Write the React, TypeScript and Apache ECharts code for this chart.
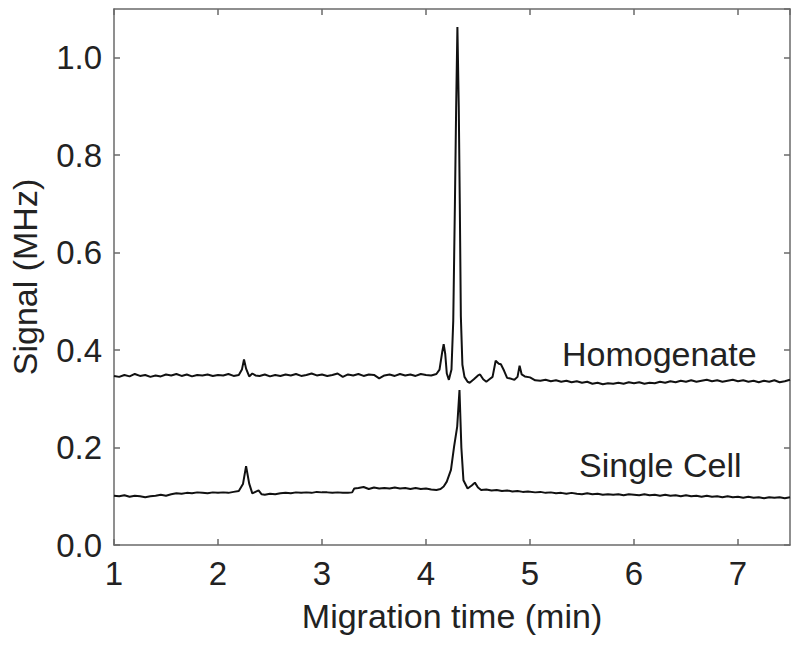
import React, { useEffect, useRef } from "react";
import * as echarts from "echarts";

// Migration time (min), Signal (MHz)
const homogenate: [number, number][] = [
  [1.00,0.347],[1.05,0.345],[1.10,0.349],[1.15,0.346],[1.20,0.351],[1.25,0.347],[1.30,0.349],[1.35,0.345],[1.40,0.348],[1.45,0.346],
  [1.50,0.350],[1.55,0.348],[1.60,0.351],[1.65,0.347],[1.70,0.350],[1.75,0.346],[1.80,0.349],[1.85,0.348],[1.90,0.350],[1.95,0.347],
  [2.00,0.349],[2.05,0.348],[2.10,0.351],[2.15,0.347],[2.20,0.349],[2.23,0.360],[2.25,0.381],[2.27,0.362],[2.30,0.346],[2.33,0.352],
  [2.36,0.348],[2.40,0.347],[2.45,0.350],[2.50,0.346],[2.55,0.349],[2.60,0.347],[2.65,0.350],[2.70,0.348],[2.75,0.351],[2.80,0.347],
  [2.85,0.349],[2.90,0.352],[2.95,0.348],[3.00,0.350],[3.05,0.347],[3.10,0.349],[3.15,0.352],[3.20,0.345],[3.25,0.350],[3.30,0.348],
  [3.35,0.351],[3.40,0.347],[3.45,0.350],[3.50,0.349],[3.55,0.342],[3.60,0.348],[3.65,0.350],[3.70,0.347],[3.75,0.351],[3.80,0.348],
  [3.85,0.350],[3.90,0.347],[3.95,0.351],[4.00,0.349],[4.05,0.348],[4.10,0.351],[4.13,0.360],[4.155,0.395],[4.17,0.412],[4.185,0.392],
  [4.20,0.352],[4.22,0.339],[4.245,0.360],[4.262,0.460],[4.278,0.700],[4.29,0.900],[4.302,1.063],[4.315,0.900],[4.325,0.700],[4.335,0.470],
  [4.35,0.370],[4.37,0.345],[4.40,0.335],[4.42,0.333],[4.46,0.340],[4.50,0.348],[4.52,0.350],[4.55,0.340],[4.58,0.335],[4.61,0.340],
  [4.64,0.345],[4.67,0.378],[4.70,0.372],[4.72,0.371],[4.75,0.358],[4.78,0.343],[4.82,0.341],[4.85,0.339],[4.88,0.345],[4.90,0.368],
  [4.92,0.350],[4.95,0.346],[5.00,0.344],[5.05,0.338],[5.10,0.337],[5.15,0.339],[5.20,0.336],[5.25,0.338],[5.30,0.335],[5.35,0.337],
  [5.40,0.334],[5.45,0.336],[5.50,0.333],[5.55,0.335],[5.60,0.331],[5.65,0.333],[5.70,0.330],[5.75,0.332],[5.80,0.331],[5.85,0.333],
  [5.90,0.331],[5.95,0.334],[6.00,0.332],[6.05,0.334],[6.10,0.331],[6.15,0.333],[6.20,0.332],[6.25,0.335],[6.30,0.333],[6.35,0.336],
  [6.40,0.334],[6.45,0.337],[6.50,0.335],[6.55,0.338],[6.60,0.335],[6.65,0.337],[6.70,0.339],[6.75,0.336],[6.80,0.338],[6.85,0.335],
  [6.90,0.337],[6.95,0.339],[7.00,0.336],[7.05,0.338],[7.10,0.335],[7.15,0.337],[7.20,0.334],[7.25,0.337],[7.30,0.335],[7.35,0.338],
  [7.40,0.334],[7.45,0.336],[7.50,0.339],
];

const singleCell: [number, number][] = [
  [1.00,0.101],[1.05,0.100],[1.10,0.102],[1.15,0.099],[1.20,0.101],[1.25,0.100],[1.30,0.098],[1.35,0.100],[1.40,0.101],[1.45,0.103],
  [1.50,0.101],[1.55,0.104],[1.60,0.106],[1.65,0.105],[1.70,0.107],[1.75,0.106],[1.80,0.108],[1.85,0.107],[1.90,0.106],[1.95,0.108],
  [2.00,0.107],[2.05,0.108],[2.10,0.107],[2.15,0.109],[2.20,0.111],[2.24,0.125],[2.27,0.162],[2.30,0.126],[2.33,0.106],[2.36,0.109],
  [2.39,0.112],[2.42,0.104],[2.45,0.103],[2.50,0.105],[2.55,0.104],[2.60,0.106],[2.65,0.107],[2.70,0.106],[2.75,0.108],[2.80,0.107],
  [2.85,0.108],[2.90,0.107],[2.95,0.109],[3.00,0.108],[3.05,0.108],[3.10,0.107],[3.15,0.108],[3.20,0.107],[3.25,0.107],[3.29,0.108],
  [3.31,0.116],[3.35,0.117],[3.40,0.119],[3.45,0.115],[3.50,0.118],[3.55,0.116],[3.60,0.117],[3.65,0.116],[3.70,0.118],[3.75,0.116],
  [3.80,0.117],[3.85,0.115],[3.90,0.117],[3.95,0.115],[4.00,0.116],[4.05,0.114],[4.10,0.113],[4.14,0.115],[4.17,0.120],[4.20,0.130],
  [4.24,0.154],[4.27,0.202],[4.30,0.243],[4.322,0.318],[4.34,0.200],[4.36,0.133],[4.40,0.116],[4.44,0.122],[4.47,0.128],[4.50,0.118],
  [4.53,0.113],[4.58,0.114],[4.63,0.112],[4.68,0.113],[4.73,0.111],[4.78,0.112],[4.83,0.110],[4.88,0.111],[4.93,0.109],[4.98,0.110],
  [5.05,0.108],[5.10,0.109],[5.15,0.107],[5.20,0.108],[5.25,0.106],[5.30,0.107],[5.35,0.105],[5.40,0.107],[5.45,0.105],[5.50,0.104],
  [5.55,0.106],[5.60,0.104],[5.65,0.105],[5.70,0.103],[5.75,0.104],[5.80,0.103],[5.85,0.104],[5.90,0.102],[5.95,0.104],[6.00,0.103],
  [6.05,0.102],[6.10,0.104],[6.15,0.102],[6.20,0.103],[6.25,0.101],[6.30,0.103],[6.35,0.101],[6.40,0.102],[6.45,0.100],[6.50,0.102],
  [6.55,0.100],[6.60,0.101],[6.65,0.099],[6.70,0.101],[6.75,0.099],[6.80,0.100],[6.85,0.098],[6.90,0.100],[6.95,0.098],[7.00,0.099],
  [7.05,0.097],[7.10,0.099],[7.15,0.097],[7.20,0.098],[7.25,0.096],[7.30,0.098],[7.35,0.097],[7.40,0.098],[7.45,0.096],[7.50,0.098],
];

const seriesNames = ["Homogenate", "Single Cell"];
const xTitle = "Migration time (min)";
const yTitle = "Signal (MHz)";

const FONT = "'Liberation Sans', Arial, Helvetica, sans-serif";
const TEXT = "#222";
const AXIS = "#6a6a6a";

export default function App() {
  const ref = useRef<HTMLDivElement>(null);
  useEffect(() => {
    if (!ref.current) return;
    const chart = echarts.init(ref.current, undefined, { renderer: "svg" });
    const frameAxis = (extra: any) => ({
      type: "value",
      axisLine: { show: true, onZero: false, lineStyle: { color: AXIS, width: 1.5 } },
      axisTick: { show: true, inside: true, length: 6, lineStyle: { color: AXIS, width: 1.5 } },
      splitLine: { show: false },
      ...extra,
    });
    chart.setOption({
      animation: false,
      backgroundColor: "#fff",
      grid: { left: 112, right: 10, top: 9, bottom: 100, containLabel: false },
      xAxis: [
        frameAxis({
          position: "bottom",
          min: 1, max: 7.5, interval: 1,
          axisLabel: { show: true, margin: 12, fontSize: 33, color: TEXT, fontFamily: FONT, showMaxLabel: false },
          name: xTitle, nameLocation: "middle", nameGap: 54,
          nameTextStyle: { fontSize: 34, color: TEXT, fontFamily: FONT },
        }),
        frameAxis({ position: "top", min: 1, max: 7.5, interval: 1, axisLabel: { show: false } }),
      ],
      yAxis: [
        frameAxis({
          position: "left",
          min: 0, max: 1.1, interval: 0.2,
          axisLabel: {
            show: true, margin: 12, fontSize: 33, color: TEXT, fontFamily: FONT, showMaxLabel: false,
            formatter: (v: number) => v.toFixed(1),
          },
          name: yTitle, nameLocation: "middle", nameGap: 72, nameRotate: 90,
          nameTextStyle: { fontSize: 34, color: TEXT, fontFamily: FONT },
        }),
        frameAxis({ position: "right", min: 0, max: 1.1, interval: 0.2, axisLabel: { show: false } }),
      ],
      series: [
        {
          name: seriesNames[0], type: "line", data: homogenate, showSymbol: false,
          lineStyle: { color: "#111", width: 2 }, xAxisIndex: 0, yAxisIndex: 0,
        },
        {
          name: seriesNames[1], type: "line", data: singleCell, showSymbol: false,
          lineStyle: { color: "#111", width: 2 }, xAxisIndex: 0, yAxisIndex: 0,
        },
      ],
      graphic: [
        { type: "text", left: 562, top: 337, style: { text: seriesNames[0], fontSize: 34, fill: TEXT, fontFamily: FONT } },
        { type: "text", left: 579, top: 448, style: { text: seriesNames[1], fontSize: 34, fill: TEXT, fontFamily: FONT } },
      ],
    });
    return () => chart.dispose();
  }, []);
  return <div ref={ref} style={{ width: 800, height: 645, margin: -8 }} />;
}
